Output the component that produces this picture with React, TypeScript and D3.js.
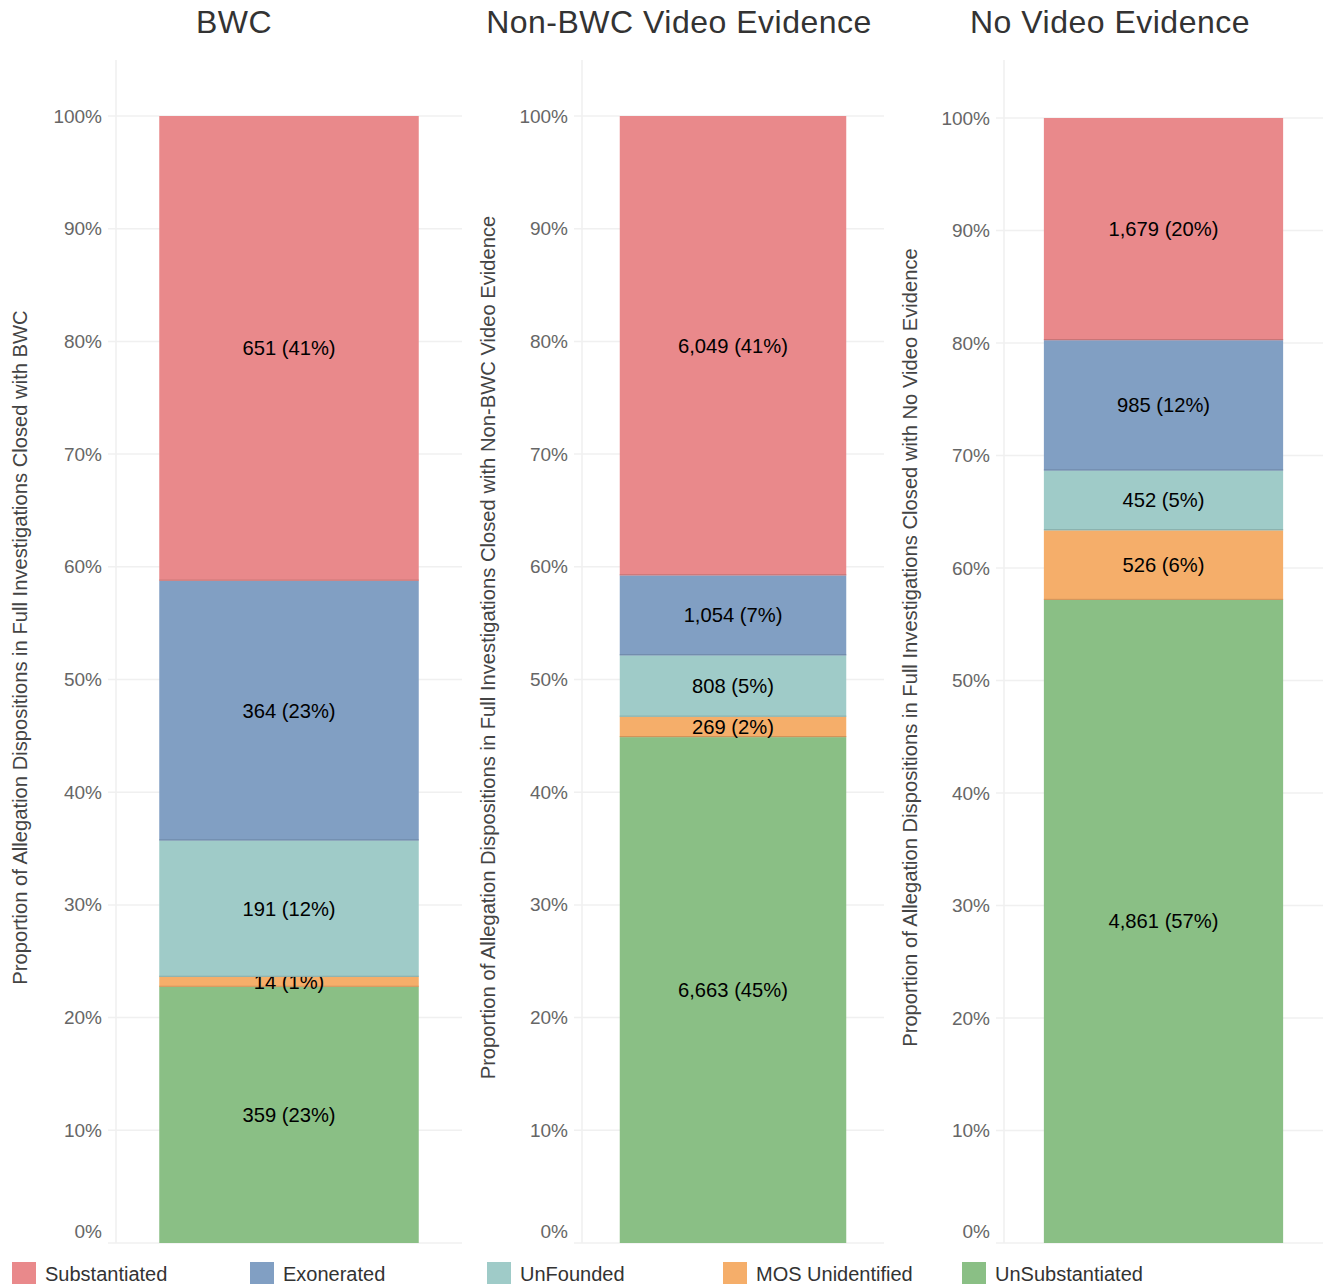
import React from "react";
import * as d3 from "d3";

const categories = ["BWC", "Non-BWC Video Evidence", "No Video Evidence"];
const dispositions = ["Substantiated", "Exonerated", "UnFounded", "MOS Unidentified", "UnSubstantiated"];
const substantiated = [651, 6049, 1679];
const exonerated = [364, 1054, 985];
const unfounded = [191, 808, 452];
const mosUnidentified = [14, 269, 526];
const unsubstantiated = [359, 6663, 4861];
const yTicks = [0, 0.1, 0.2, 0.3, 0.4, 0.5, 0.6, 0.7, 0.8, 0.9, 1.0];

const colors: Record<string, string> = {
  Substantiated: "#E9898B",
  Exonerated: "#819FC3",
  UnFounded: "#9FCBC8",
  "MOS Unidentified": "#F5AE6A",
  UnSubstantiated: "#8ABF85",
};

const seriesValues: Record<string, number[]> = {
  Substantiated: substantiated,
  Exonerated: exonerated,
  UnFounded: unfounded,
  "MOS Unidentified": mosUnidentified,
  UnSubstantiated: unsubstantiated,
};

const stackOrder = ["UnSubstantiated", "MOS Unidentified", "UnFounded", "Exonerated", "Substantiated"];

const panels = [
  { left: 116, right: 462, top: 116, ylabelX: 20, tickX: 102, titleX: 234 },
  { left: 582, right: 884, top: 116, ylabelX: 488, tickX: 568, titleX: 679 },
  { left: 1004, right: 1323, top: 118, ylabelX: 910, tickX: 990, titleX: 1110 },
];

const BOTTOM = 1243;
const FONT = "'Liberation Sans', Arial, Helvetica, sans-serif";

function Panel({ idx }: { idx: number }) {
  const cat = categories[idx];
  const p = panels[idx];
  const row: Record<string, any> = { cat };
  stackOrder.forEach((k) => (row[k] = seriesValues[k][idx]));
  const total = d3.sum(stackOrder, (k) => seriesValues[k][idx]);
  const stacked = d3.stack<any>().keys(stackOrder).offset(d3.stackOffsetExpand)([row]);
  const x = d3.scaleBand<string>().domain([cat]).range([p.left, p.right]).paddingInner(0).paddingOuter(1 / 6);
  const y = d3.scaleLinear().domain([0, 1]).range([BOTTOM, p.top]);
  const fmt = d3.format(",");
  const bx = x(cat)!;
  const bw = x.bandwidth();
  return (
    <g>
      <text x={p.titleX} y={33} textAnchor="middle" fontSize={32} letterSpacing={0.5} fill="#333" fontFamily={FONT}>
        {cat}
      </text>
      <line x1={p.left} x2={p.left} y1={60} y2={BOTTOM} stroke="#efefef" strokeWidth={1.5} />
      {yTicks.map((t) => (
        <g key={t}>
          <line x1={p.left - 8} x2={p.right} y1={y(t)} y2={y(t)} stroke="#f0f0f0" strokeWidth={1.5} />
          <text
            x={p.tickX}
            y={Math.min(y(t), BOTTOM - 12)}
            textAnchor="end"
            dominantBaseline="central"
            fontSize={19}
            fill="#666"
            fontFamily={FONT}
          >
            {d3.format(".0%")(t)}
          </text>
        </g>
      ))}
      <text
        transform={`translate(${p.ylabelX},${(BOTTOM + 60) / 2 - 4}) rotate(-90)`}
        textAnchor="middle"
        dominantBaseline="central"
        fontSize={20.2}
        fill="#444"
        fontFamily={FONT}
      >
        {`Proportion of Allegation Dispositions in Full Investigations Closed with ${cat}`}
      </text>
      {stacked.map((s) => {
        const d = s[0];
        const y0 = y(d[0]);
        const y1 = y(d[1]);
        const key = s.key;
        const v = seriesValues[key][idx];
        return (
          <g key={key}>
            <rect x={bx} y={y1} width={bw} height={y0 - y1} fill={colors[key]} />
            {d[0] > 0 && (
              <line
                x1={bx}
                x2={bx + bw}
                y1={y0 - 0.5}
                y2={y0 - 0.5}
                stroke={d3.color(colors[key])!.darker(0.5).toString()}
                strokeWidth={1}
              />
            )}
            <text
              x={bx + bw / 2}
              y={(y0 + y1) / 2}
              textAnchor="middle"
              dominantBaseline="central"
              fontSize={20.2}
              fill="#000"
              fontFamily={FONT}
            >
              {`${fmt(v)} (${Math.round((v / total) * 100)}%)`}
            </text>
          </g>
        );
      })}
    </g>
  );
}

const legendX = [12, 250, 487, 723, 962];

export default function App() {
  return (
    <svg
      width={1327}
      height={1284}
      style={{ position: "absolute", left: 0, top: 0, background: "#fff" }}
    >
      <rect x={0} y={0} width={1327} height={1284} fill="#fff" />
      {categories.map((c, i) => (
        <Panel key={c} idx={i} />
      ))}
      {dispositions.map((d, i) => (
        <g key={d}>
          <rect x={legendX[i]} y={1262} width={24} height={24} fill={colors[d]} />
          <text x={legendX[i] + 33} y={1281} fontSize={20} fill="#333" fontFamily={FONT}>
            {d}
          </text>
        </g>
      ))}
    </svg>
  );
}
